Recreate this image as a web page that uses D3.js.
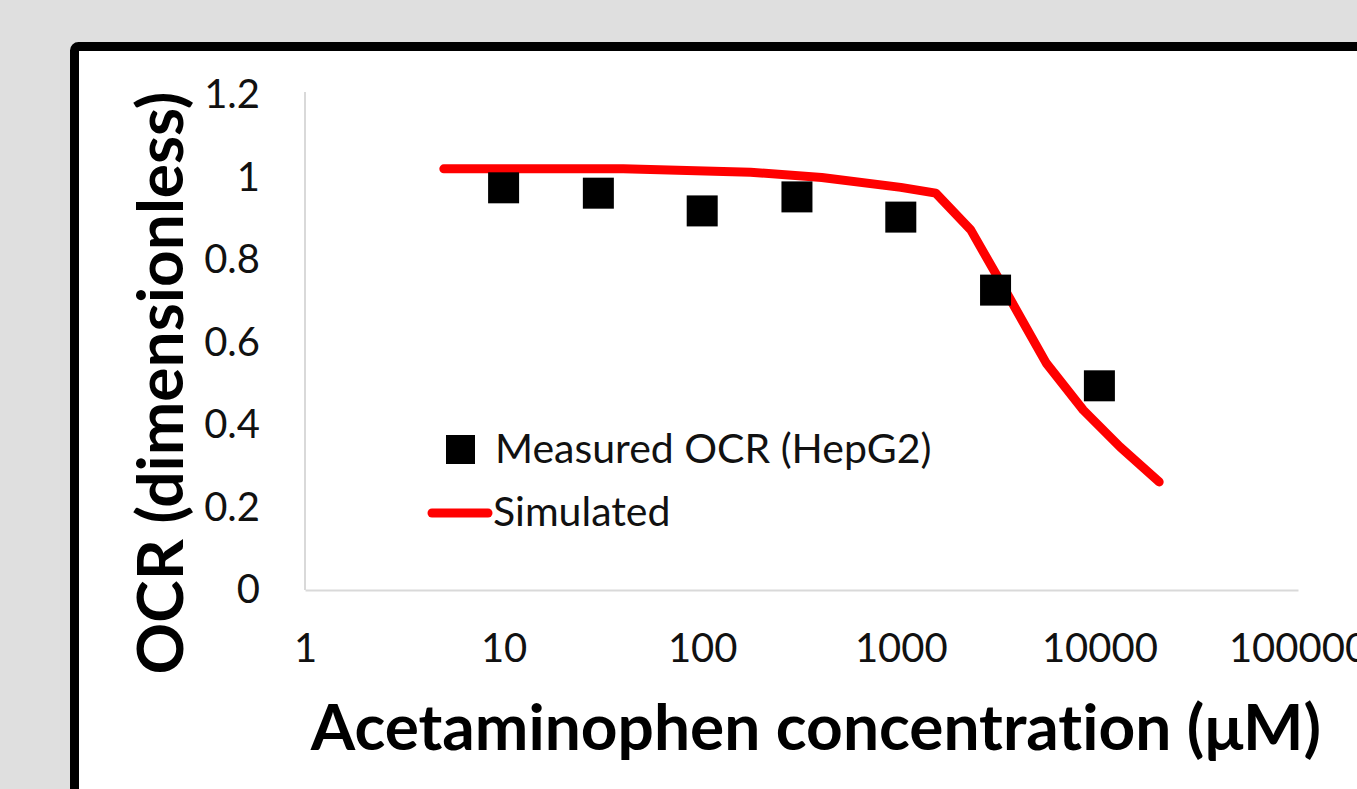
<!DOCTYPE html>
<html>
<head>
<meta charset="utf-8">
<script src="https://cdn.jsdelivr.net/npm/d3@7"></script>
<style>
  body { margin: 0; background: #dfdfdf; overflow: hidden; }
  svg { display: block; }
  text { font-variant-ligatures: none; }
</style>
</head>
<body>
<div id="plot"></div>
<script>
"use strict";

// measured points (HepG2)
const measuredConc = [10, 30, 100, 300, 1000, 3000, 10000];
const measuredOcr = [0.975, 0.962, 0.919, 0.953, 0.904, 0.727, 0.495];

// simulated curve
const simConc = [5, 40, 175, 400, 1000, 1500, 2250, 3200, 5400, 8300, 12700, 20000];
const simOcr = [1.021, 1.021, 1.013, 1.0, 0.976, 0.962, 0.873, 0.744, 0.55, 0.436, 0.347, 0.262];

const xTicks = [1, 10, 100, 1000, 10000, 100000];
const yTicks = [0, 0.2, 0.4, 0.6, 0.8, 1, 1.2];

const msm = {
    width: 1357,
    height: 789,
    left: 305,
    right: 1298,
    top: 95,
    bottom: 590
}

const font = "Lato, 'Open Sans', sans-serif";

const svg = d3.select("#plot")
    .append("svg")
    .attr("width", msm.width)
    .attr("height", msm.height);

// white panel with thick black frame (runs off the page on the right and bottom)
svg.append("rect")
    .attr("x", 74.5)
    .attr("y", 46.5)
    .attr("width", 1400)
    .attr("height", 800)
    .attr("rx", 4)
    .attr("fill", "white")
    .attr("stroke", "black")
    .attr("stroke-width", 9);

let xScale = d3.scaleLog()
    .domain([1, 100000])
    .range([msm.left, msm.right]);

let yScale = d3.scaleLinear()
    .domain([0, 1.2])
    .range([msm.bottom, msm.top]);

// axes
let xAxis = d3.axisBottom(xScale)
    .tickValues(xTicks)
    .tickFormat(d3.format("d"))
    .tickSize(0)
    .tickPadding(44);
let gx = svg.append("g")
    .attr("transform", "translate(0," + msm.bottom + ")")
    .call(xAxis);

let yAxis = d3.axisLeft(yScale)
    .tickValues(yTicks)
    .tickFormat(d => String(d))
    .tickSize(0)
    .tickPadding(45);
let gy = svg.append("g")
    .attr("transform", "translate(" + msm.left + ",0)")
    .call(yAxis);

[gx, gy].forEach(g => {
    g.select(".domain").attr("stroke", "#d9d9d9").attr("stroke-width", 2);
    g.selectAll("text")
        .style("font-family", font)
        .style("font-size", "40px")
        .attr("fill", "#111");
});
gy.select(".domain").attr("d", "M0," + (msm.top - 3) + "V" + msm.bottom);

// simulated line
let line = d3.line()
    .x((d, i) => xScale(simConc[i]))
    .y(d => yScale(d));

svg.append("path")
    .datum(simOcr)
    .attr("d", line)
    .attr("fill", "none")
    .attr("stroke", "#ff0000")
    .attr("stroke-width", 9)
    .attr("stroke-linecap", "round")
    .attr("stroke-linejoin", "round");

// measured squares
const sq = 31;
svg.append("g")
    .selectAll("rect")
    .data(measuredOcr)
    .enter()
    .append("rect")
    .attr("x", (d, i) => xScale(measuredConc[i]) - sq / 2)
    .attr("y", d => yScale(d) - sq / 2)
    .attr("width", sq)
    .attr("height", sq)
    .attr("fill", "black");

// legend
svg.append("rect")
    .attr("x", 446)
    .attr("y", 435)
    .attr("width", 29)
    .attr("height", 29)
    .attr("fill", "black");
svg.append("text")
    .attr("x", 495)
    .attr("y", 463)
    .style("font-family", font)
    .style("font-size", "41px")
    .attr("fill", "#111")
    .text("Measured OCR (HepG2)");

svg.append("line")
    .attr("x1", 432)
    .attr("x2", 488)
    .attr("y1", 513)
    .attr("y2", 513)
    .attr("stroke", "#ff0000")
    .attr("stroke-width", 9)
    .attr("stroke-linecap", "round");
svg.append("text")
    .attr("x", 493)
    .attr("y", 526)
    .style("font-family", font)
    .style("font-size", "41px")
    .attr("fill", "#111")
    .text("Simulated");

// axis titles
svg.append("text")
    .attr("x", 816)
    .attr("y", 750)
    .attr("text-anchor", "middle")
    .style("font-family", font)
    .style("font-size", "64px")
    .style("font-weight", "bold")
    .text("Acetaminophen concentration (\u03bcM)");

svg.append("text")
    .attr("transform", "translate(183,383) rotate(-90)")
    .attr("text-anchor", "middle")
    .style("font-family", font)
    .style("font-size", "64px")
    .style("font-weight", "bold")
    .text("OCR (dimensionless)");
</script>
</body>
</html>
